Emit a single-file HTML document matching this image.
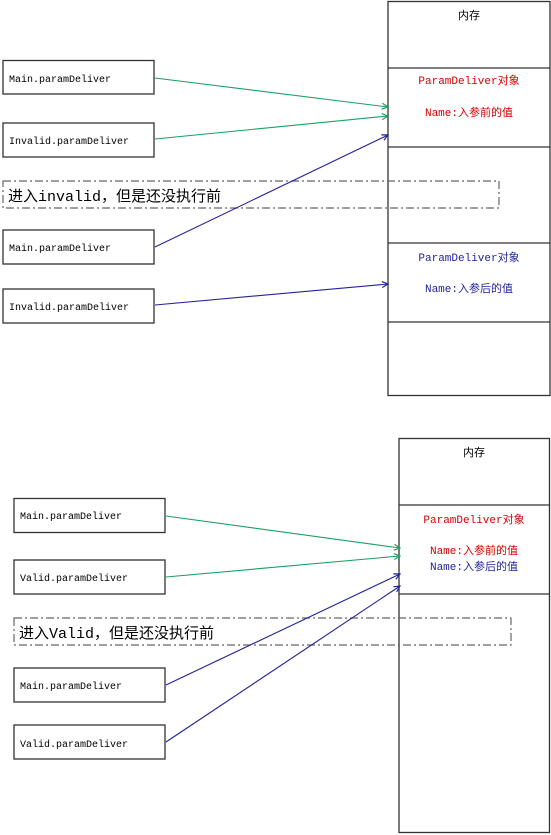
<!DOCTYPE html>
<html><head><meta charset="utf-8"><style>
html,body{margin:0;padding:0;background:#fff;width:551px;height:835px;overflow:hidden}
svg text{font-family:"Liberation Mono","Noto Sans CJK SC",monospace}
</style></head><body>
<svg width="551" height="835" xmlns="http://www.w3.org/2000/svg">
<defs>
<marker id="g" markerWidth="8" markerHeight="8" refX="7" refY="4" orient="auto" markerUnits="userSpaceOnUse"><path d="M1,1 L7,4 L1,7" fill="none" stroke="#1a9f64" stroke-width="1.2"/></marker>
<marker id="b" markerWidth="8" markerHeight="8" refX="7" refY="4" orient="auto" markerUnits="userSpaceOnUse"><path d="M1,1 L7,4 L1,7" fill="none" stroke="#23239a" stroke-width="1.2"/></marker>
</defs>
<g fill="none" stroke="#333" stroke-width="1.3">
<rect x="388" y="1.5" width="162" height="394"/>
<line x1="388" y1="68" x2="550" y2="68"/>
<line x1="388" y1="147" x2="550" y2="147"/>
<line x1="388" y1="243" x2="550" y2="243"/>
<line x1="388" y1="322" x2="550" y2="322"/>
<rect x="3" y="60.5" width="151" height="33.5"/>
<rect x="3" y="123" width="151" height="34"/>
<rect x="3" y="230" width="151" height="34"/>
<rect x="3" y="289" width="151" height="34"/>
<rect x="399" y="438.5" width="150.5" height="394"/>
<line x1="399" y1="505" x2="550" y2="505"/>
<line x1="399" y1="594" x2="550" y2="594"/>
<rect x="14" y="498.5" width="151" height="34"/>
<rect x="14" y="560" width="151" height="34"/>
<rect x="14" y="668" width="151" height="34"/>
<rect x="14" y="725" width="151" height="34"/>
</g>
<g fill="none" stroke="#666" stroke-width="1.2" stroke-dasharray="8,3,2,3">
<rect x="3" y="181" width="496" height="27"/>
<rect x="14" y="618" width="497" height="27"/>
</g>
<g stroke-width="1.1">
<line x1="155" y1="78" x2="388" y2="107" stroke="#1a9f64" marker-end="url(#g)"/>
<line x1="155" y1="139" x2="388" y2="116" stroke="#1a9f64" marker-end="url(#g)"/>
<line x1="155" y1="247" x2="388" y2="135" stroke="#23239a" marker-end="url(#b)"/>
<line x1="155" y1="305" x2="388" y2="284" stroke="#23239a" marker-end="url(#b)"/>
<line x1="166" y1="516" x2="400" y2="548" stroke="#1a9f64" marker-end="url(#g)"/>
<line x1="166" y1="577" x2="400" y2="556" stroke="#1a9f64" marker-end="url(#g)"/>
<line x1="166" y1="685" x2="400" y2="574" stroke="#23239a" marker-end="url(#b)"/>
<line x1="166" y1="742" x2="400" y2="586" stroke="#23239a" marker-end="url(#b)"/>
</g>
<g font-size="10" fill="#000">
<text x="9" y="82">Main.paramDeliver</text>
<text x="9" y="144">Invalid.paramDeliver</text>
<text x="9" y="251">Main.paramDeliver</text>
<text x="9" y="310">Invalid.paramDeliver</text>
<text x="20" y="519">Main.paramDeliver</text>
<text x="20" y="581">Valid.paramDeliver</text>
<text x="20" y="689">Main.paramDeliver</text>
<text x="20" y="747">Valid.paramDeliver</text>
</g>
<g font-size="11" text-anchor="middle">
<text x="469" y="19" fill="#000">内存</text>
<text x="469" y="84" fill="#d40000">ParamDeliver对象</text>
<text x="469" y="116" fill="#d40000">Name:入参前的值</text>
<text x="469" y="261" fill="#23239a">ParamDeliver对象</text>
<text x="469" y="292" fill="#23239a">Name:入参后的值</text>
<text x="474" y="456" fill="#000">内存</text>
<text x="474" y="523" fill="#d40000">ParamDeliver对象</text>
<text x="474" y="554" fill="#d40000">Name:入参前的值</text>
<text x="474" y="570" fill="#23239a">Name:入参后的值</text>
</g>
<g font-size="15" fill="#000">
<text x="8" y="201">进入invalid，但是还没执行前</text>
<text x="19" y="638">进入Valid，但是还没执行前</text>
</g>
</svg>
</body></html>
